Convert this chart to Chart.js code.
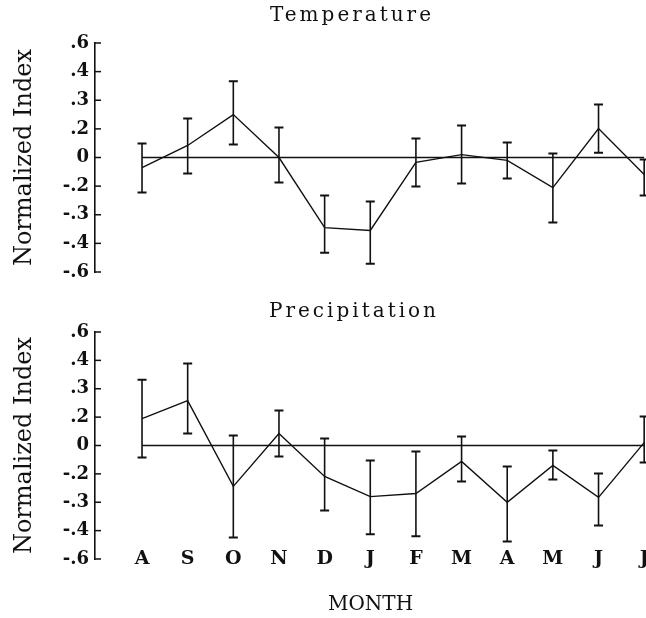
<!DOCTYPE html>
<html>
<head>
<meta charset="utf-8">
<script src="https://cdn.jsdelivr.net/npm/chart.js@4.4.0/dist/chart.umd.min.js"></script>
<style>
  html, body { margin: 0; padding: 0; background: #fff; }
  #wrap { width: 646px; height: 618px; }
  canvas { display: block; }
</style>
</head>
<body>
<div id="wrap">
  <canvas id="tempChart" width="646" height="290"></canvas>
  <canvas id="precChart" width="646" height="328"></canvas>
</div>
<script>
// Month initials, August through July
const months = ['A', 'S', 'O', 'N', 'D', 'J', 'F', 'M', 'A', 'M', 'J', 'J'];

// Y tick labels as printed; they sit at evenly spaced positions -4 .. 4
const yTickLabels = ['-.6', '-.4', '-.3', '-.2', '0', '.2', '.3', '.4', '.6'];

// Temperature (values in tick positions)
const tempMean = [-0.35, 0.42, 1.5, 0, -2.45, -2.55, -0.17, 0.1, -0.1, -1.05, 1.01, -0.59];
const tempHigh = [0.49, 1.36, 2.66, 1.05, -1.33, -1.54, 0.66, 1.12, 0.52, 0.14, 1.85, -0.07];
const tempLow = [-1.22, -0.56, 0.45, -0.87, -3.33, -3.71, -1.01, -0.91, -0.73, -2.27, 0.17, -1.33];

// Precipitation (values in tick positions)
const precMean = [0.95, 1.58, -1.44, 0.42, -1.09, -1.8, -1.69, -0.56, -2.0, -0.7, -1.83, 0.1];
const precHigh = [2.32, 2.89, 0.35, 1.23, 0.25, -0.53, -0.21, 0.32, -0.74, -0.18, -0.99, 1.02];
const precLow = [-0.42, 0.42, -3.24, -0.39, -2.29, -3.13, -3.2, -1.27, -3.38, -1.2, -2.82, -0.6];

const ink = '#111';
const serif = "'DejaVu Serif', serif";

// Error bars with caps, plus the short inward tick marks on the y axis
const errorBars = {
    id: 'errorBars',
    afterDatasetsDraw(chart, args, opts) {
        const { ctx, scales: { x, y } } = chart;
        ctx.save();
        ctx.strokeStyle = ink;

        // inward tick marks
        ctx.lineWidth = 1.5;
        y.ticks.forEach(t => {
            const py = y.getPixelForValue(t.value);
            ctx.beginPath();
            ctx.moveTo(y.right, py);
            ctx.lineTo(y.right + 6, py);
            ctx.stroke();
        });

        opts.high.forEach((hi, i) => {
            const px = x.getPixelForValue(i);
            const top = y.getPixelForValue(hi);
            const bot = y.getPixelForValue(opts.low[i]);
            ctx.lineWidth = 1.6;
            ctx.beginPath();
            ctx.moveTo(px, top);
            ctx.lineTo(px, bot);
            ctx.stroke();
            ctx.lineWidth = 2;
            ctx.beginPath();
            ctx.moveTo(px - 4.5, top);
            ctx.lineTo(px + 4.5, top);
            ctx.moveTo(px - 4.5, bot);
            ctx.lineTo(px + 4.5, bot);
            ctx.stroke();
        });
        ctx.restore();
    }
};

// Panel heading drawn on the canvas
const panelTitle = {
    id: 'panelTitle',
    afterDraw(chart, args, opts) {
        const ctx = chart.ctx;
        ctx.save();
        ctx.font = opts.font;
        ctx.letterSpacing = opts.spacing;
        ctx.fillStyle = ink;
        ctx.textAlign = 'center';
        ctx.textBaseline = 'middle';
        ctx.fillText(opts.text, opts.x, opts.y);
        ctx.restore();
    }
};

function buildChart(id, mean, high, low, title, showMonths) {
    const lineData = months.map((m, i) => ({ x: i, y: mean[i] }));
    const zeroData = [{ x: 0, y: 0 }, { x: months.length - 1, y: 0 }];

    return new Chart(document.getElementById(id), {
        type: 'line',
        data: {
            datasets: [
                { data: lineData, borderColor: ink, borderWidth: 1.4, pointRadius: 0, tension: 0 },
                { data: zeroData, borderColor: ink, borderWidth: 1.4, pointRadius: 0 }
            ]
        },
        options: {
            responsive: false,
            animation: false,
            layout: { padding: { top: showMonths ? 42 : 43, bottom: showMonths ? 0 : 18, left: 0, right: 0 } },
            plugins: {
                legend: { display: false },
                tooltip: { enabled: false },
                errorBars: { high: high, low: low },
                panelTitle: title
            },
            scales: {
                x: {
                    type: 'linear',
                    min: -1.03,
                    max: 11.04,
                    display: showMonths,
                    grid: { display: false, drawTicks: false },
                    border: { display: false },
                    afterBuildTicks: s => { s.ticks = months.map((m, i) => ({ value: i })); },
                    afterFit: s => { s.paddingLeft = 0; s.paddingRight = 0; s.height = showMonths ? 59 : 0; },
                    ticks: {
                        callback: (v, i) => months[i],
                        autoSkip: false,
                        maxRotation: 0,
                        mirror: true,
                        padding: -11,
                        color: ink,
                        font: { family: serif, size: 19, weight: 'bold' }
                    },
                    title: {
                        display: true,
                        text: 'MONTH',
                        color: ink,
                        padding: { top: 0, bottom: 1 },
                        font: { family: serif, size: 20 }
                    }
                },
                y: {
                    min: -4,
                    max: 4,
                    afterBuildTicks: s => { s.ticks = yTickLabels.map((t, i) => ({ value: i - 4 })); },
                    afterFit: s => { s.width = 95; s.paddingTop = 0; s.paddingBottom = 0; },
                    grid: { display: false, drawTicks: false },
                    border: { display: true, color: ink, width: 1.6 },
                    ticks: {
                        callback: (v, i) => yTickLabels[i],
                        padding: 6,
                        color: ink,
                        font: { family: serif, size: 18, weight: 'bold' }
                    },
                    title: {
                        display: true,
                        text: 'Normalized Index',
                        color: ink,
                        padding: { top: 10, bottom: 0 },
                        font: { family: serif, size: 24 }
                    }
                }
            }
        },
        plugins: [errorBars, panelTitle]
    });
}

buildChart('tempChart', tempMean, tempHigh, tempLow,
    { text: 'Temperature', x: 352, y: 16, font: "20px 'DejaVu Serif'", spacing: '3px' }, false);
buildChart('precChart', precMean, precHigh, precLow,
    { text: 'Precipitation', x: 354, y: 22, font: "20px 'DejaVu Serif'", spacing: '3px' }, true);
</script>
</body>
</html>
